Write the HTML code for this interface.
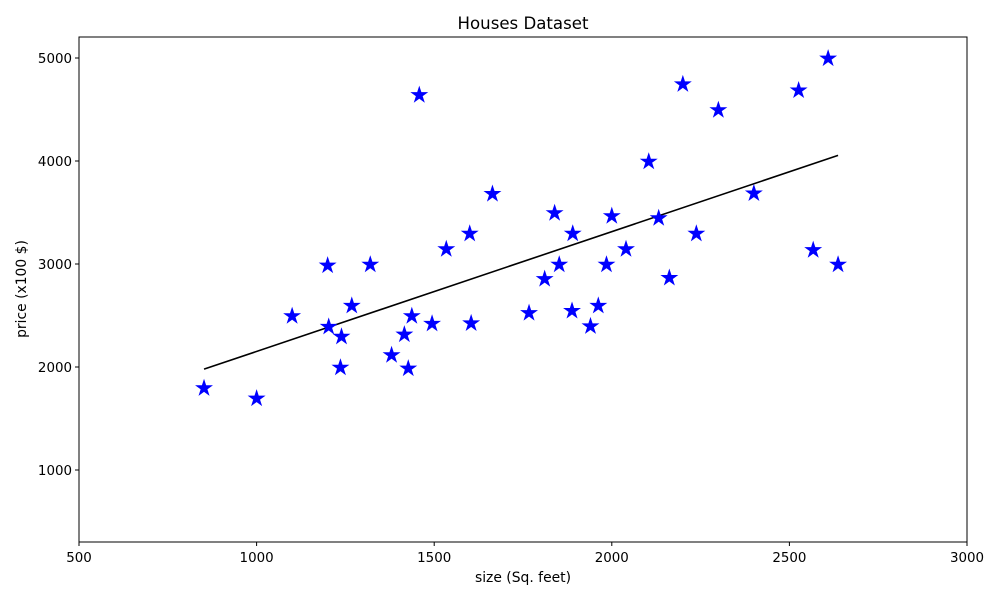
<!DOCTYPE html>
<html><head><meta charset="utf-8"><style>
body{margin:0;background:#fff;}
svg text{font-family:"DejaVu Sans","Liberation Sans",sans-serif;}
</style></head><body>
<svg id="chart" width="1000" height="600" xmlns="http://www.w3.org/2000/svg">
<rect width="1000" height="600" fill="#fff"/>
<text x="523" y="29" text-anchor="middle" font-size="16.6">Houses Dataset</text>
<g id="ticks"></g>
<g id="marks"></g>
<rect x="79" y="37" width="888" height="505" fill="none" stroke="#000" stroke-width="1"/>
<text x="523" y="582" text-anchor="middle" font-size="13.9">size (Sq. feet)</text>
<text transform="translate(26,289) rotate(-90)" text-anchor="middle" font-size="13.9">price (x100 $)</text>
</svg>
<script>
const sizes=[2104,1600,2400,1416,1985,1534,1427,1380,1494,1940,2000,1890,1268,2300,1320,1236,2609,1767,1888,1604,1962,1100,1458,2526,2200,2637,1839,1000,2040,1811,1437,1239,2132,2162,1664,2238,2567,1200,852,1852,1203];
const prices=[3999,3299,3690,2320,2999,3149,1990,2120,2425,2400,3470,3300,2599,4499,2999,1999,5000,2529,2550,2429,2599,2499,4645,4690,4750,2999,3499,1699,3149,2859,2499,2299,3450,2870,3685,3299,3140,2990,1799,2999,2395];
const xTicks=[500,1000,1500,2000,2500,3000];
const yTicks=[1000,2000,3000,4000,5000];
const X0=79,X1=967,xmin=500,xmax=3000;
const Y0=542,Y1=37,ymin=301,ymax=5204;
const sx=v=>X0+(v-xmin)/(xmax-xmin)*(X1-X0);
const sy=v=>Y0-(v-ymin)/(ymax-ymin)*(Y0-Y1);
const NS="http://www.w3.org/2000/svg";
const tg=document.getElementById('ticks'),mg=document.getElementById('marks');
function mk(t,a,p){const e=document.createElementNS(NS,t);for(const k in a)e.setAttribute(k,a[k]);p.appendChild(e);return e;}
xTicks.forEach(v=>{const x=sx(v);
 const l=mk('line',{x1:x,x2:x,y1:542,y2:546,stroke:'#000'},tg);
 
 
 const t=mk('text',{x:x,y:562,'text-anchor':'middle','font-size':'13.4'},tg);t.textContent=v;
 
 
});
yTicks.forEach(v=>{const y=sy(v);
 const l=mk('line',{x1:75,x2:79,y1:y,y2:y,stroke:'#000'},tg);
 
 
 const t=mk('text',{x:72,y:y+5,'text-anchor':'end','font-size':'13.4'},tg);t.textContent=v;
 
 
});
const n=sizes.length;let mx=0,my=0;for(let i=0;i<n;i++){mx+=sizes[i];my+=prices[i];}mx/=n;my/=n;
let sxy=0,sxx=0;for(let i=0;i<n;i++){sxy+=(sizes[i]-mx)*(prices[i]-my);sxx+=(sizes[i]-mx)**2;}
const b=sxy/sxx,a=my-b*mx;
const xa=Math.min(...sizes),xb=Math.max(...sizes);
const fl=mk('line',{x1:sx(xa),y1:sy(a+b*xa),x2:sx(xb),y2:sy(a+b*xb),stroke:'#000','stroke-width':'1.6'},mg);


function star(cx,cy,R){const r=R*0.382;let p=[];for(let i=0;i<10;i++){const ang=-Math.PI/2+i*Math.PI/5;const rr=i%2?r:R;p.push((cx+rr*Math.cos(ang)).toFixed(2)+','+(cy+rr*Math.sin(ang)).toFixed(2));}return p.join(' ');}
for(let i=0;i<n;i++){
 const s=mk('polygon',{points:star(sx(sizes[i]),sy(prices[i])+0.5,7.8),fill:'#0000ff',stroke:'#0000ff','stroke-width':'1'},mg);
 
 
}
</script>
</body></html>
